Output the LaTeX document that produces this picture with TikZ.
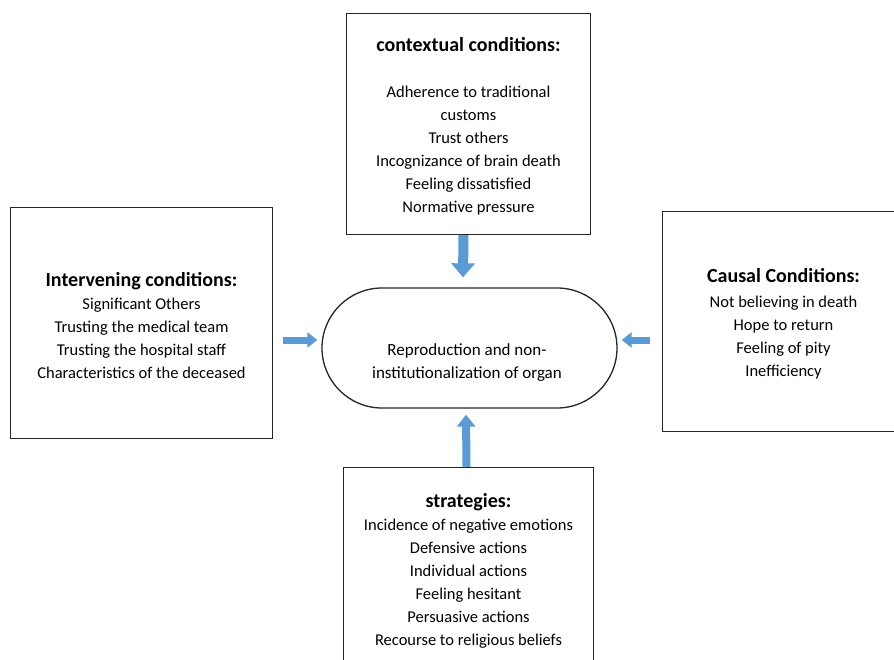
\documentclass[tikz,border=0pt]{standalone}
\usepackage{fontspec}
\setmainfont{Carlito}
\usetikzlibrary{arrows.meta,shapes.misc}
\definecolor{arrblue}{HTML}{5B9BD5}
\definecolor{boxline}{HTML}{262626}
\tikzset{
  box/.style={draw=boxline, line width=1pt, anchor=north west, align=center, inner sep=0pt,
    font=\fontsize{16.5}{23}\selectfont},
  barrowV/.style={draw=arrblue, line width=10pt, -{Triangle[length=14pt,width=23pt]}},
  barrowB/.style={draw=arrblue, line width=8pt, -{Triangle[length=12pt,width=18pt]}},
  barrowH/.style={draw=arrblue, line width=7pt, -{Triangle[length=10pt,width=15pt]}},
}
\newcommand{\ttl}[1]{{\bfseries\fontsize{20}{23}\selectfont\rule{0pt}{19pt}#1}}
\begin{document}
\begin{tikzpicture}[x=1pt,y=-1pt]
\clip (0,0) rectangle (894,660);
\fill[white] (0,0) rectangle (894,660);
\coordinate (hy) at (0,340);
% central stadium
\node[draw=boxline, line width=1.3pt, rounded rectangle, minimum width=295pt, minimum height=120pt,
  inner sep=0pt] (ctr) at (469.5,348) {};
\node[align=center, font=\fontsize{17}{23}\selectfont] (ctrtxt) at (467,363)
  {Reproduction and non-\\institutionalization of organ};
% boxes
\node[box, minimum width=244pt, minimum height=221pt] (ctx) at (346,13)
  {\ttl{contextual conditions:}\\[23pt]
   Adherence to traditional\\customs\\Trust others\\Incognizance of brain death\\Feeling dissatisfied\\Normative pressure};
\node[box, minimum width=262pt, minimum height=231pt] (itv) at (10,207)
  {\ttl{Intervening conditions:}\\
   Significant Others\\Trusting the medical team\\Trusting the hospital staff\\Characteristics of the deceased};
\node[box, minimum width=242pt, minimum height=220pt] (cau) at (662,211)
  {\ttl{Causal Conditions:}\\[2pt]
   Not believing in death\\Hope to return\\Feeling of pity\\Inefficiency};
\node[box, minimum width=250pt, minimum height=202pt] (str) at (343,467)
  {\ttl{strategies:}\\
   Incidence of negative emotions\\Defensive actions\\Individual actions\\Feeling hesitant\\Persuasive actions\\Recourse to religious beliefs};
% arrows
\draw[barrowV] ([xshift=-5pt]ctx.south) -- ([xshift=-6.5pt,yshift=10pt]ctr.north);
\draw[barrowB] ([xshift=-2pt]str.north) -- ([xshift=-3.5pt,yshift=-6pt]ctr.south);
\draw[barrowH] ([xshift=10pt]itv.east |- hy) -- ([xshift=-4pt]ctr.west |- hy);
\draw[barrowH] ([xshift=-12pt]cau.west |- hy) -- ([xshift=4pt]ctr.east |- hy);
\end{tikzpicture}
\end{document}
